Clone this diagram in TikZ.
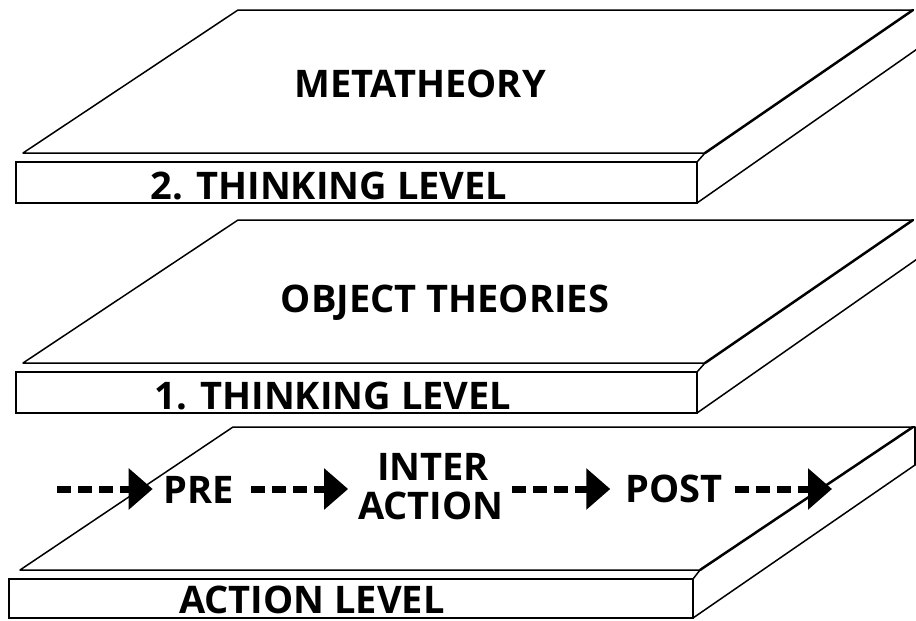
\documentclass[tikz,border=0pt]{standalone}
\usepackage{fontspec}
\setmainfont{Open Sans}
\usetikzlibrary{arrows.meta}
\begin{document}
\begin{tikzpicture}[x=1pt,y=-1pt,
  edge/.style={line width=1.5pt, line join=round, line cap=round},
  ridge/.style={line width=2.5pt, line cap=round},
  front/.style={line width=2.2pt},
  lbl/.style={font=\fontsize{38}{40}\selectfont\bfseries, inner sep=0pt, anchor=base},
  flow/.style={line width=7pt, dash pattern=on 14pt off 7pt,
    -{Triangle[length=24pt 0 0,width=40pt 0 0]}}
]
\useasboundingbox (0,0) rectangle (916,621);
\clip (0,0) rectangle (916,621);

% ---- slab 1 (2. thinking level)
\draw[edge] (913,10) -- (238,10) -- (23,153) -- (705,153);
\draw[ridge] (705,153) -- (913,10);
\draw[front] (16,162) rectangle (697,203);
\draw[edge] (697,162) -- (705,153);
\draw[edge] (697,203) -- (920,47);

% ---- slab 2 (1. thinking level)
\draw[edge] (913,220) -- (238,220) -- (23,363) -- (705,363);
\draw[ridge] (705,363) -- (913,220);
\draw[front] (16,372) rectangle (697,413);
\draw[edge] (697,372) -- (705,363);
\draw[edge] (697,413) -- (920,257);

% ---- slab 3 (action level)
\draw[edge] (913,427) -- (233,427) -- (20,570) -- (700,570);
\draw[ridge] (700,570) -- (913,427);
\draw[edge] (913,427) -- (915,427) -- (915,465);
\draw[front] (9,579) rectangle (693,618);
\draw[edge] (693,579) -- (700,570);
\draw[edge] (693,618) -- (915,465);

% ---- labels
\node[lbl] (meta) at (420,97) {METATHEORY};
\node[lbl] (think2) at (329,199) {2. THINKING LEVEL};
\node[lbl] (objth) at (445,312) {OBJECT THEORIES};
\node[lbl] (think1) at (333,409) {1. THINKING LEVEL};
\node[lbl] (actlev) at (312,613) {ACTION LEVEL};

\node[lbl] (pre) at (199,503) {PRE};
\node[lbl] (inter) at (433,480) {INTER};
\node[lbl] (action) at (431,519) {ACTION};
\node[lbl] (post) at (674,502) {POST};
\coordinate (s0) at (57,489);
\coordinate (e0) at (832,489);

% ---- flow arrows
\draw[flow] (s0) -- ([xshift=-11pt]pre.west |- s0);
\draw[flow] ([xshift=17pt]pre.east |- s0) -- ([xshift=-10pt]action.west |- s0);
\draw[flow] ([xshift=8pt]action.east |- s0) -- ([xshift=-15pt]post.west |- s0);
\draw[flow] ([xshift=12pt]post.east |- s0) -- (e0);
\end{tikzpicture}
\end{document}
